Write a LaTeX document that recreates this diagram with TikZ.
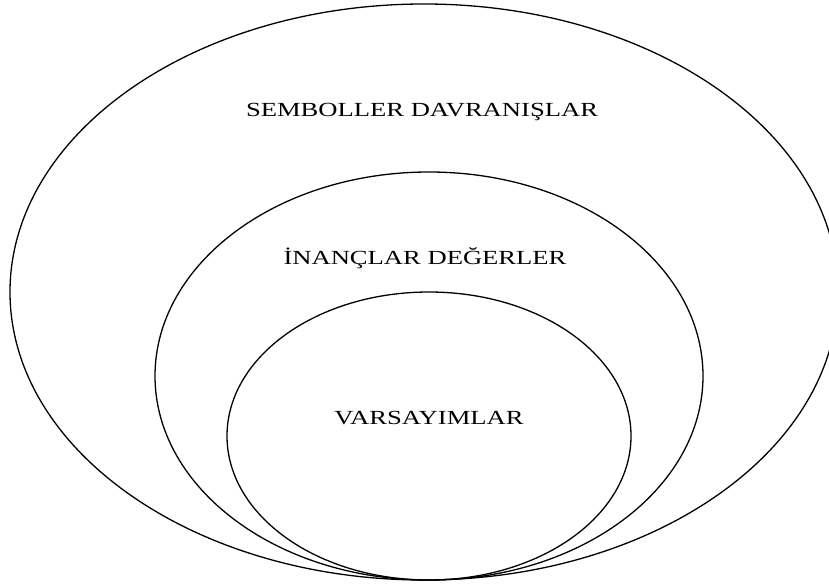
\documentclass[tikz,border=0pt]{standalone}
\usepackage{fontspec}
\setmainfont{Liberation Serif}
\usetikzlibrary{shapes.geometric}
\newcommand{\widetext}[1]{\scalebox{1.33}[1]{#1}}
\begin{document}
\begin{tikzpicture}[x=1pt,y=-1pt,
  ring/.style={draw=black,line width=1.3pt,ellipse,inner sep=0pt},
  lbl/.style={anchor=base,inner sep=0pt,font=\fontsize{20}{24}\selectfont}]
\useasboundingbox (0,0) rectangle (829,588);
\begin{scope}
\clip (0,0) rectangle (829,588);
\node[ring,minimum width=828pt,minimum height=576pt] (outer) at (424,292) {};
\end{scope}
\node[ring,minimum width=548pt,minimum height=408pt] (middle) at (429,376) {};
\node[ring,minimum width=404pt,minimum height=288pt] (inner) at (429,436) {};
\node[lbl] (t1) at (422,117) {\widetext{SEMBOLLER DAVRANIŞLAR}};
\node[lbl] (t2) at (425,264) {\widetext{İNANÇLAR DEĞERLER}};
\node[lbl] (t3) at (429,424) {\widetext{VARSAYIMLAR}};
\end{tikzpicture}
\end{document}
